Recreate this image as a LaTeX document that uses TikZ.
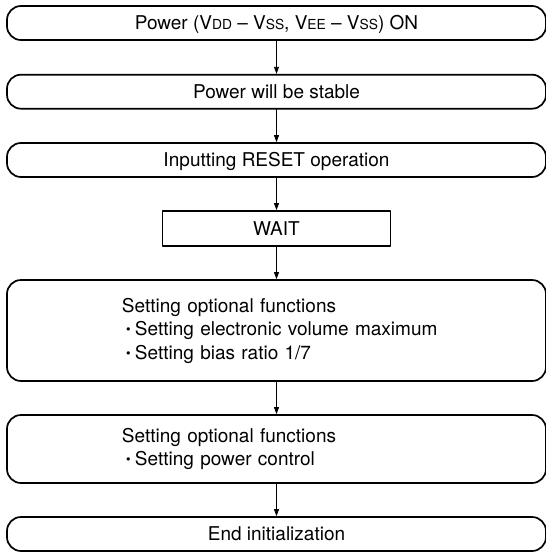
\documentclass[tikz,border=0pt]{standalone}
\usepackage{fontspec}
\setmainfont{TeX Gyre Heros}
\newfontfamily\cjk{Noto Sans CJK JP}
\usepackage{tikz}
\usetikzlibrary{arrows.meta}
\newcommand{\sm}[1]{{\fontsize{13.8}{13.8}\selectfont #1}}
\newcommand{\itm}{\hspace*{115pt}\makebox[13pt][c]{\cjk\fontsize{16}{16}\selectfont ・}}

\begin{document}
\begin{tikzpicture}[line cap=round,line join=round,>={Triangle[length=7pt,width=5pt]},x=1pt,y=-1pt,
    font=\fontsize{19}{23.5}\selectfont,
    stepbox/.style={draw,line width=1.7pt,rounded corners=14pt,minimum width=539pt,inner sep=0pt},
    onebox/.style={stepbox,minimum height=34pt,text height=13.6pt,text depth=0pt},
    waitbox/.style={draw,line width=1.7pt,minimum width=228pt,minimum height=35pt,inner sep=0pt,text height=13.6pt,text depth=0pt},
    listbox/.style={stepbox,text width=539pt,align=left},
    flow/.style={->,line width=0.8pt}]
    \useasboundingbox (0,0) rectangle (546,552);
    \node[onebox] (pwron) at (276.5,23) {Power (V\sm{DD} -- V\sm{SS}, V\sm{EE} -- V\sm{SS}) ON};
    \node[onebox] (stable) at (276.5,91.7) {Power will be stable};
    \node[onebox] (reset) at (276.5,160) {Inputting RESET operation};
    \node[waitbox] (wait) at (276.5,228.5) {WAIT};
    \node[listbox,minimum height=101pt] (opt1) at (276.5,330.5)
        {\hspace*{115pt}Setting optional functions\\
         \itm Setting electronic volume maximum\\
         \itm Setting bias ratio 1/7};
    \node[listbox,minimum height=68pt] (opt2) at (276.5,449)
        {\hspace*{115pt}Setting optional functions\\
         \itm Setting power control};
    \node[onebox] (done) at (276.5,534) {End initialization};
    \draw[flow] (pwron) -- (stable);
    \draw[flow] (stable) -- (reset);
    \draw[flow] (reset) -- (wait);
    \draw[flow] (wait) -- (opt1);
    \draw[flow] (opt1) -- (opt2);
    \draw[flow] (opt2) -- (done);
\end{tikzpicture}
\end{document}
